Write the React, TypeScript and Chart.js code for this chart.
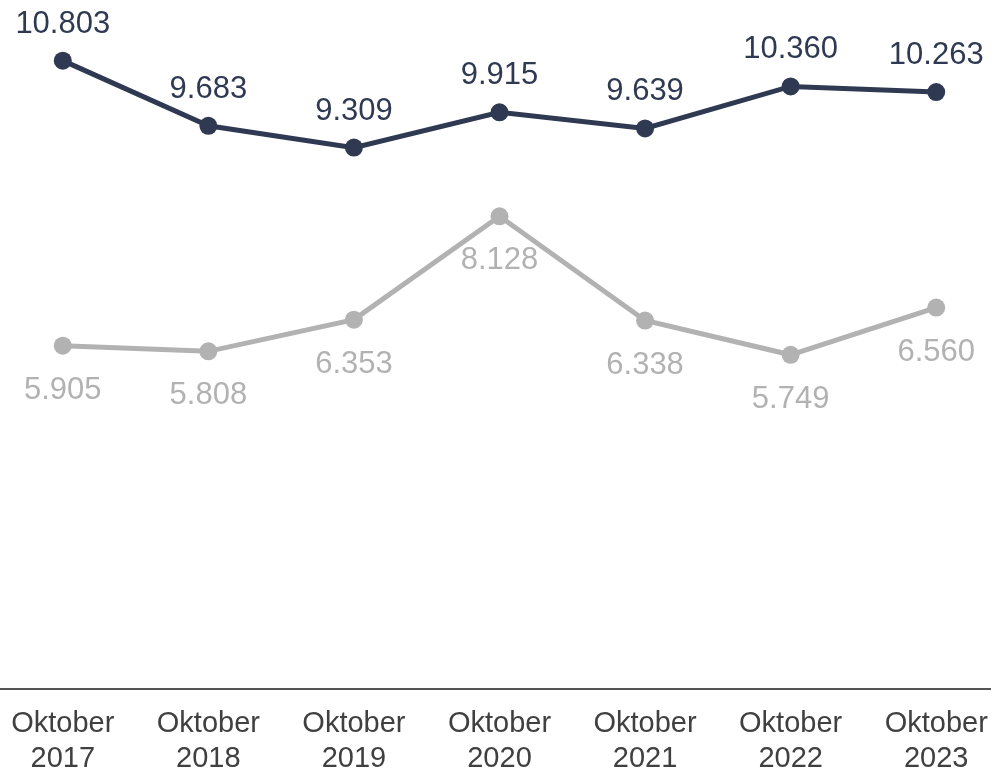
import React, { useEffect, useRef } from "react";
import { Chart, registerables } from "chart.js";

Chart.register(...registerables);

const categories = ["2017", "2018", "2019", "2020", "2021", "2022", "2023"];
const monthLabel = "Oktober";
const seriesDark = [10803, 9683, 9309, 9915, 9639, 10360, 10263];
const seriesGray = [5905, 5808, 6353, 8128, 6338, 5749, 6560];

const DARK = "#2f3a52";
const GRAY = "#b2b2b2";
const FONT = "'Liberation Sans', Arial, sans-serif";

function fmt(v: number): string {
  const s = Math.round(v).toString();
  return s.replace(/\B(?=(\d{3})+(?!\d))/g, ".");
}

const labelPlugin = {
  id: "valueLabels",
  afterDatasetsDraw(chart: any) {
    const ctx = chart.ctx;
    ctx.save();
    ctx.font = `31px ${FONT}`;
    ctx.textAlign = "center";
    ctx.textBaseline = "alphabetic";
    chart.data.datasets.forEach((ds: any, di: number) => {
      const meta = chart.getDatasetMeta(di);
      meta.data.forEach((pt: any, i: number) => {
        const v = ds.data[i];
        ctx.fillStyle = di === 0 ? DARK : GRAY;
        const y = di === 0 ? pt.y - 28 : pt.y + 53;
        ctx.fillText(fmt(v), pt.x, y);
      });
    });
    ctx.restore();
  },
};

export default function App() {
  const ref = useRef<HTMLCanvasElement | null>(null);
  useEffect(() => {
    if (!ref.current) return;
    const chart = new Chart(ref.current, {
      type: "line",
      data: {
        labels: categories.map((c) => [monthLabel, c]),
        datasets: [
          {
            data: seriesDark,
            borderColor: DARK,
            backgroundColor: DARK,
            borderWidth: 5,
            pointRadius: 9,
            pointBorderWidth: 0,
            pointBackgroundColor: DARK,
            tension: 0,
          },
          {
            data: seriesGray,
            borderColor: GRAY,
            backgroundColor: GRAY,
            borderWidth: 5,
            pointRadius: 9,
            pointBorderWidth: 0,
            pointBackgroundColor: GRAY,
            tension: 0,
          },
        ],
      },
      options: {
        animation: false,
        responsive: false,
        maintainAspectRatio: false,
        layout: { padding: 0, autoPadding: false },
        plugins: {
          legend: { display: false },
          tooltip: { enabled: false },
        },
        scales: {
          x: {
            offset: true,
            grid: { display: false, drawTicks: false },
            border: { display: true, color: "#555555", width: 2 },
            ticks: {
              color: "#404040",
              font: { family: FONT, size: 29, lineHeight: 1.2 },
              padding: 17,
              maxRotation: 0,
              autoSkip: false,
            },
          },
          y: {
            display: false,
            min: 0,
            max: 11845,
          },
        },
      },
      plugins: [labelPlugin],
    });
    return () => chart.destroy();
  }, []);

  return (
    <div
      style={{
        position: "fixed",
        left: 0,
        top: 0,
        width: 991,
        height: 772,
        overflow: "hidden",
        background: "#ffffff",
      }}
    >
      <canvas
        ref={ref}
        width={1019}
        height={793}
        style={{ position: "absolute", left: -10, top: 0, width: 1019, height: 793 }}
      />
    </div>
  );
}
